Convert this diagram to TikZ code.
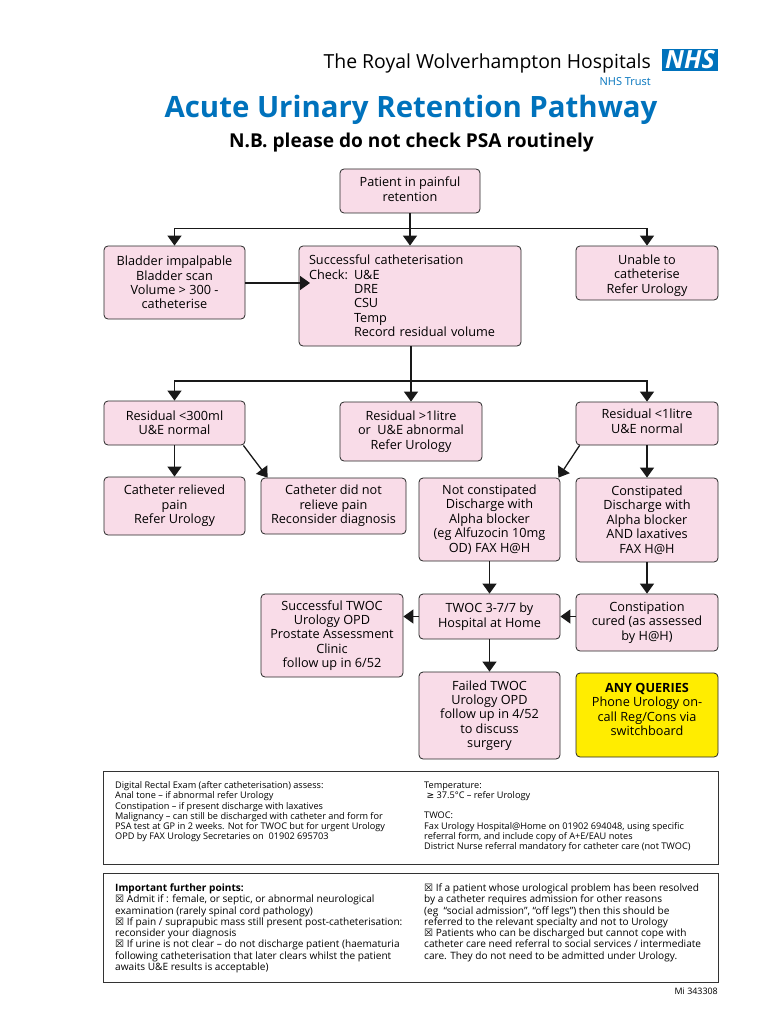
\documentclass[tikz,border=0pt]{standalone}
\usepackage{fontspec}
\setmainfont{Open Sans}
\newfontfamily\symfont{DejaVu Sans}
\usetikzlibrary{arrows.meta}
\definecolor{boxpink}{HTML}{F9DCE8}
\definecolor{boxyellow}{HTML}{FFED00}
\definecolor{trustblue}{HTML}{0072BC}
\newcommand{\tick}{{\symfont\char"2612}}
\newcommand{\chk}[1]{\makebox[45pt][l]{#1}}
\tikzset{
	stepbox/.style={draw=black!85,line width=0.8pt,rounded corners=4pt,fill=boxpink,inner sep=0pt,align=center,font=\fontsize{12.7}{14.4}\selectfont},
	notebox/.style={draw=black!80,line width=0.9pt,fill=white,inner sep=0pt},
	notetext/.style={anchor=north west,inner sep=0pt,align=left},
	flow/.style={-{Triangle[width=14pt,length=10pt]},line width=1.3pt,black!90}
}
\begin{document}
\begin{tikzpicture}[x=1pt,y=-1pt]
		\useasboundingbox (0,0) rectangle (770,1024);
		%Header
		\node [anchor=east,inner sep=0pt,font=\fontsize{19.4}{22}\selectfont] (trust) at (651,63) {The Royal Wolverhampton Hospitals};
		\node [anchor=east,inner sep=0pt,text=trustblue,font=\fontsize{11}{13}\selectfont] (nhstrust) at (651,81.5) {NHS Trust};
		\node [fill=trustblue,text=white,inner sep=0pt,minimum width=56pt,minimum height=22pt,font=\fontsize{25}{27}\selectfont\bfseries\itshape] (logo) at (690,60) {NHS};
		\node [inner sep=0pt,text=trustblue,font=\fontsize{29.4}{34}\selectfont\bfseries] (title) at (411,110) {Acute Urinary Retention Pathway};
		\node [inner sep=0pt,font=\fontsize{19.1}{22}\selectfont\bfseries] (psa) at (411.5,143) {N.B. please do not check PSA routinely};

		%Nodes
		\node [stepbox,minimum width=140pt,minimum height=44pt] (patient) at (410,191) {Patient in painful\\retention\\[-11pt]\mbox{}};
		\node [stepbox,minimum width=141pt,minimum height=73pt] (bladder) at (174.5,282.5) {Bladder impalpable\\Bladder scan\\Volume > 300 -\\catheterise};
		\node [stepbox,minimum width=222pt,minimum height=100pt,text width=202pt,align=left] (success) at (410,296) {Successful catheterisation\\\chk{Check:}U\&E\\\chk{}DRE\\\chk{}CSU\\\chk{}Temp\\\chk{}Record residual volume};
		\node [stepbox,minimum width=142pt,minimum height=54pt] (unable) at (647,273) {\mbox{}\\Unable to\\catheterise\\Refer Urology};
		\node [stepbox,minimum width=141pt,minimum height=44pt] (lowres) at (174.5,423) {Residual <300ml\\U\&E normal};
		\node [stepbox,minimum width=142pt,minimum height=59pt] (highres) at (411,431.5) {Residual >1litre\\or\ \ U\&E abnormal\\Refer Urology};
		\node [stepbox,minimum width=142pt,minimum height=43pt] (midres) at (647,423.5) {Residual <1litre\\U\&E normal\\[-10pt]\mbox{}};
		\node [stepbox,minimum width=141pt,minimum height=58pt] (relieved) at (174.5,506) {Catheter relieved\\pain\\Refer Urology};
		\node [stepbox,minimum width=145pt,minimum height=56pt] (notrelieved) at (333.5,506) {Catheter did not\\relieve pain\\Reconsider diagnosis};
		\node [stepbox,minimum width=141pt,minimum height=83pt] (notconst) at (489.5,519.5) {Not constipated\\Discharge with\\Alpha blocker\\(eg Alfuzocin 10mg\\OD) FAX H@H};
		\node [stepbox,minimum width=142pt,minimum height=84pt] (const) at (647,520) {Constipated\\Discharge with\\Alpha blocker\\AND laxatives\\FAX H@H};
		\node [stepbox,minimum width=142pt,minimum height=83pt] (goodtwoc) at (332,635.5) {Successful TWOC\\Urology OPD\\Prostate Assessment\\Clinic\\follow up in 6/52};
		\node [stepbox,minimum width=141pt,minimum height=45pt] (twoc) at (489.5,616.5) {TWOC 3-7/7 by\\Hospital at Home};
		\node [stepbox,minimum width=142pt,minimum height=57pt] (cured) at (647,622.5) {Constipation\\cured (as assessed\\by H@H)};
		\node [stepbox,minimum width=141pt,minimum height=87pt] (failed) at (489.5,715.5) {Failed TWOC\\Urology OPD\\follow up in 4/52\\to discuss\\surgery};
		\node [stepbox,fill=boxyellow,minimum width=142pt,minimum height=84pt] (queries) at (647,715) {\textbf{ANY QUERIES}\\Phone Urology on-\\call Reg/Cons via\\switchboard\\[-3pt]\mbox{}};

		%Arcos
		\draw[flow] (patient.south)--(success.north);
		\draw[flow] (patient.south)--++(0,15) -| (bladder.north);
		\draw[flow] (patient.south)--++(0,15) -| (unable.north);
		\draw[flow] (bladder.east |- 0,283)--(310,283);
		\draw[flow] (highres.north |- success.south)--(highres.north);
		\draw[flow] (highres.north |- 0,381) -| (lowres.north);
		\draw[flow] (highres.north |- 0,381) -| (midres.north);
		\draw[flow] (lowres.south)--(relieved.north);
		\draw[flow] ([xshift=-2pt]lowres.south east)--([xshift=7pt]notrelieved.north west);
		\draw[flow] ([xshift=4pt]midres.south west)--([xshift=-2pt]notconst.north east);
		\draw[flow] (midres.south)--(const.north);
		\draw[flow] (notconst.south)--(twoc.north);
		\draw[flow] (const.south)--(cured.north);
		\draw[flow] (twoc.east -| cured.west)--(twoc.east);
		\draw[flow] (twoc.west)--(twoc.west -| goodtwoc.east);
		\draw[flow] (twoc.south)--(failed.north);

		%Notes
		\node [notebox,minimum width=615pt,minimum height=93pt] (exam) at (410.5,817.5) {};
		\node [notetext,font=\fontsize{9.17}{10.2}\selectfont] (examleft) at (115,781.5) {Digital Rectal Exam (after catheterisation) assess:\\Anal tone -- if abnormal refer Urology\\Constipation -- if present discharge with laxatives\\Malignancy -- can still be discharged with catheter and form for\\PSA test at GP in 2 weeks. Not for TWOC but for urgent Urology\\OPD by FAX Urology Secretaries on\ \ 01902 695703};
		\node [notetext,font=\fontsize{9.17}{10.2}\selectfont] (examright) at (424,781.5) {Temperature:\\\ {\symfont≥} 37.5°C -- refer Urology\\[10.2pt]TWOC:\\Fax Urology Hospital@Home on 01902 694048, using specific\\referral form, and include copy of A+E/EAU notes\\District Nurse referral mandatory for catheter care (not TWOC)};
		\node [notebox,minimum width=615pt,minimum height=109pt] (points) at (410.5,927.5) {};
		\node [notetext,font=\fontsize{10.1}{11.3}\selectfont] (pointsleft) at (115,883.5) {\textbf{Important further points:}\\\tick{} Admit if : female, or septic, or abnormal neurological\\examination (rarely spinal cord pathology)\\\tick{} If pain / suprapubic mass still present post-catheterisation:\\reconsider your diagnosis\\\tick{} If urine is not clear -- do not discharge patient (haematuria\\following catheterisation that later clears whilst the patient\\awaits U\&E results is acceptable)};
		\node [notetext,font=\fontsize{10.1}{11.3}\selectfont] (pointsright) at (424,883.5) {\tick{} If a patient whose urological problem has been resolved\\by a catheter requires admission for other reasons\\(eg\ \ “social admission”, “off legs”) then this should be\\referred to the relevant specialty and not to Urology\\\tick{} Patients who can be discharged but cannot cope with\\catheter care need referral to social services / intermediate\\care. They do not need to be admitted under Urology.};
		\node [anchor=east,inner sep=0pt,font=\fontsize{8.9}{10.2}\selectfont] (ref) at (718,991) {Mi 343308};
\end{tikzpicture}
\end{document}
